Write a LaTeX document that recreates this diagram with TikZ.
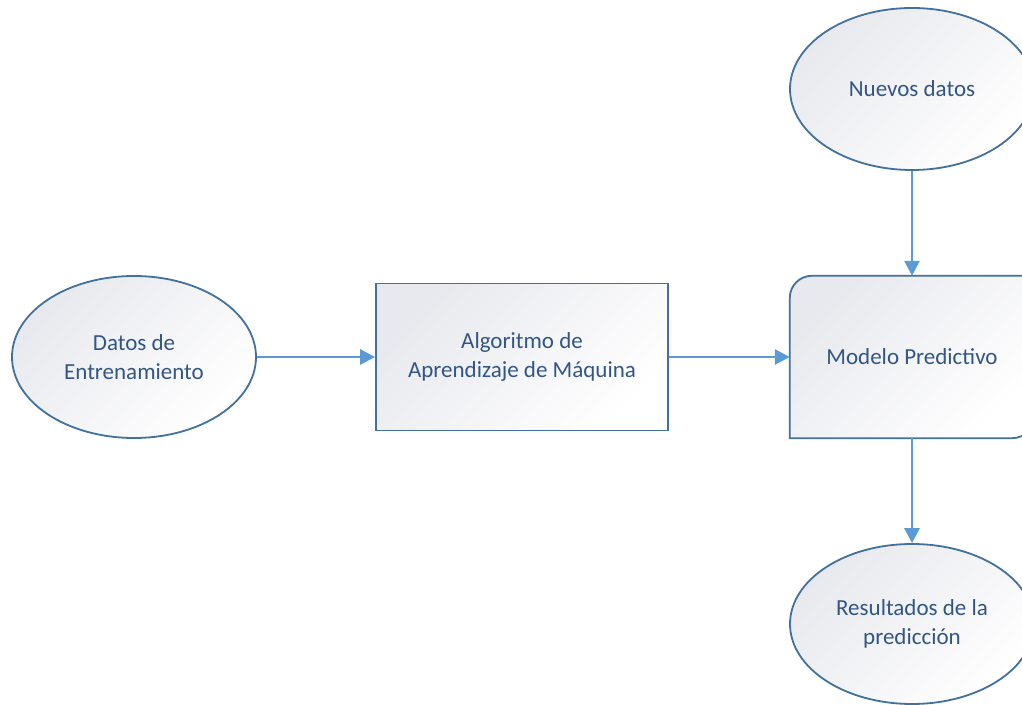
\documentclass[tikz,border=0pt]{standalone}
\usepackage{fontspec}
\setmainfont{Carlito}
\usetikzlibrary{shapes.geometric,arrows.meta}
\definecolor{borde}{HTML}{41719C}
\definecolor{flecha}{HTML}{5B9BD5}
\definecolor{texto}{RGB}{50,86,132}
\definecolor{sombra}{RGB}{232,233,238}
\tikzset{
	forma/.style={draw=borde,line width=1.8pt,top color=sombra,bottom color=white,shading angle=45,
		text=texto,font=\fontsize{23}{29}\selectfont,align=center,inner sep=0pt},
	elipse/.style={forma,ellipse,minimum width=244pt,minimum height=162pt},
	flujo/.style={-{Triangle[length=15pt,width=15pt]},color=flecha,line width=2.8pt}
}
\begin{document}
\begin{tikzpicture}[x=1pt,y=1pt]
		\useasboundingbox (0,0) rectangle (1022,704);
		\clip (0,0) rectangle (1022,704);
		\node[elipse] (datos) at (134,347) {Datos de\\Entrenamiento};
		\node[forma,rectangle,minimum width=292pt,minimum height=147pt] (algoritmo) at (522,347) {Algoritmo de\\Aprendizaje de Máquina};
		\node[rectangle,minimum width=244pt,minimum height=162pt,inner sep=0pt] (modelo) at (912,347) {};
		\draw[forma] (modelo.south west) -- ([yshift=-22pt]modelo.north west) arc[start angle=180,end angle=90,radius=22pt]
			-- (modelo.north east) -- ([yshift=22pt]modelo.south east) arc[start angle=0,end angle=-90,radius=22pt] -- cycle;
		\node[text=texto,font=\fontsize{23}{29}\selectfont] at (modelo.center) {Modelo Predictivo};
		\node[elipse] (nuevos) at (912,615) {Nuevos datos};
		\node[elipse,minimum height=160pt] (resultados) at (912,80) {Resultados de la\\predicción};
		\draw[flujo] (datos.east) -- (algoritmo.west);
		\draw[flujo] (algoritmo.east) -- (modelo.west);
		\draw[flujo] (nuevos.south) -- (modelo.north);
		\draw[flujo] (modelo.south) -- (resultados.north);
\end{tikzpicture}
\end{document}
